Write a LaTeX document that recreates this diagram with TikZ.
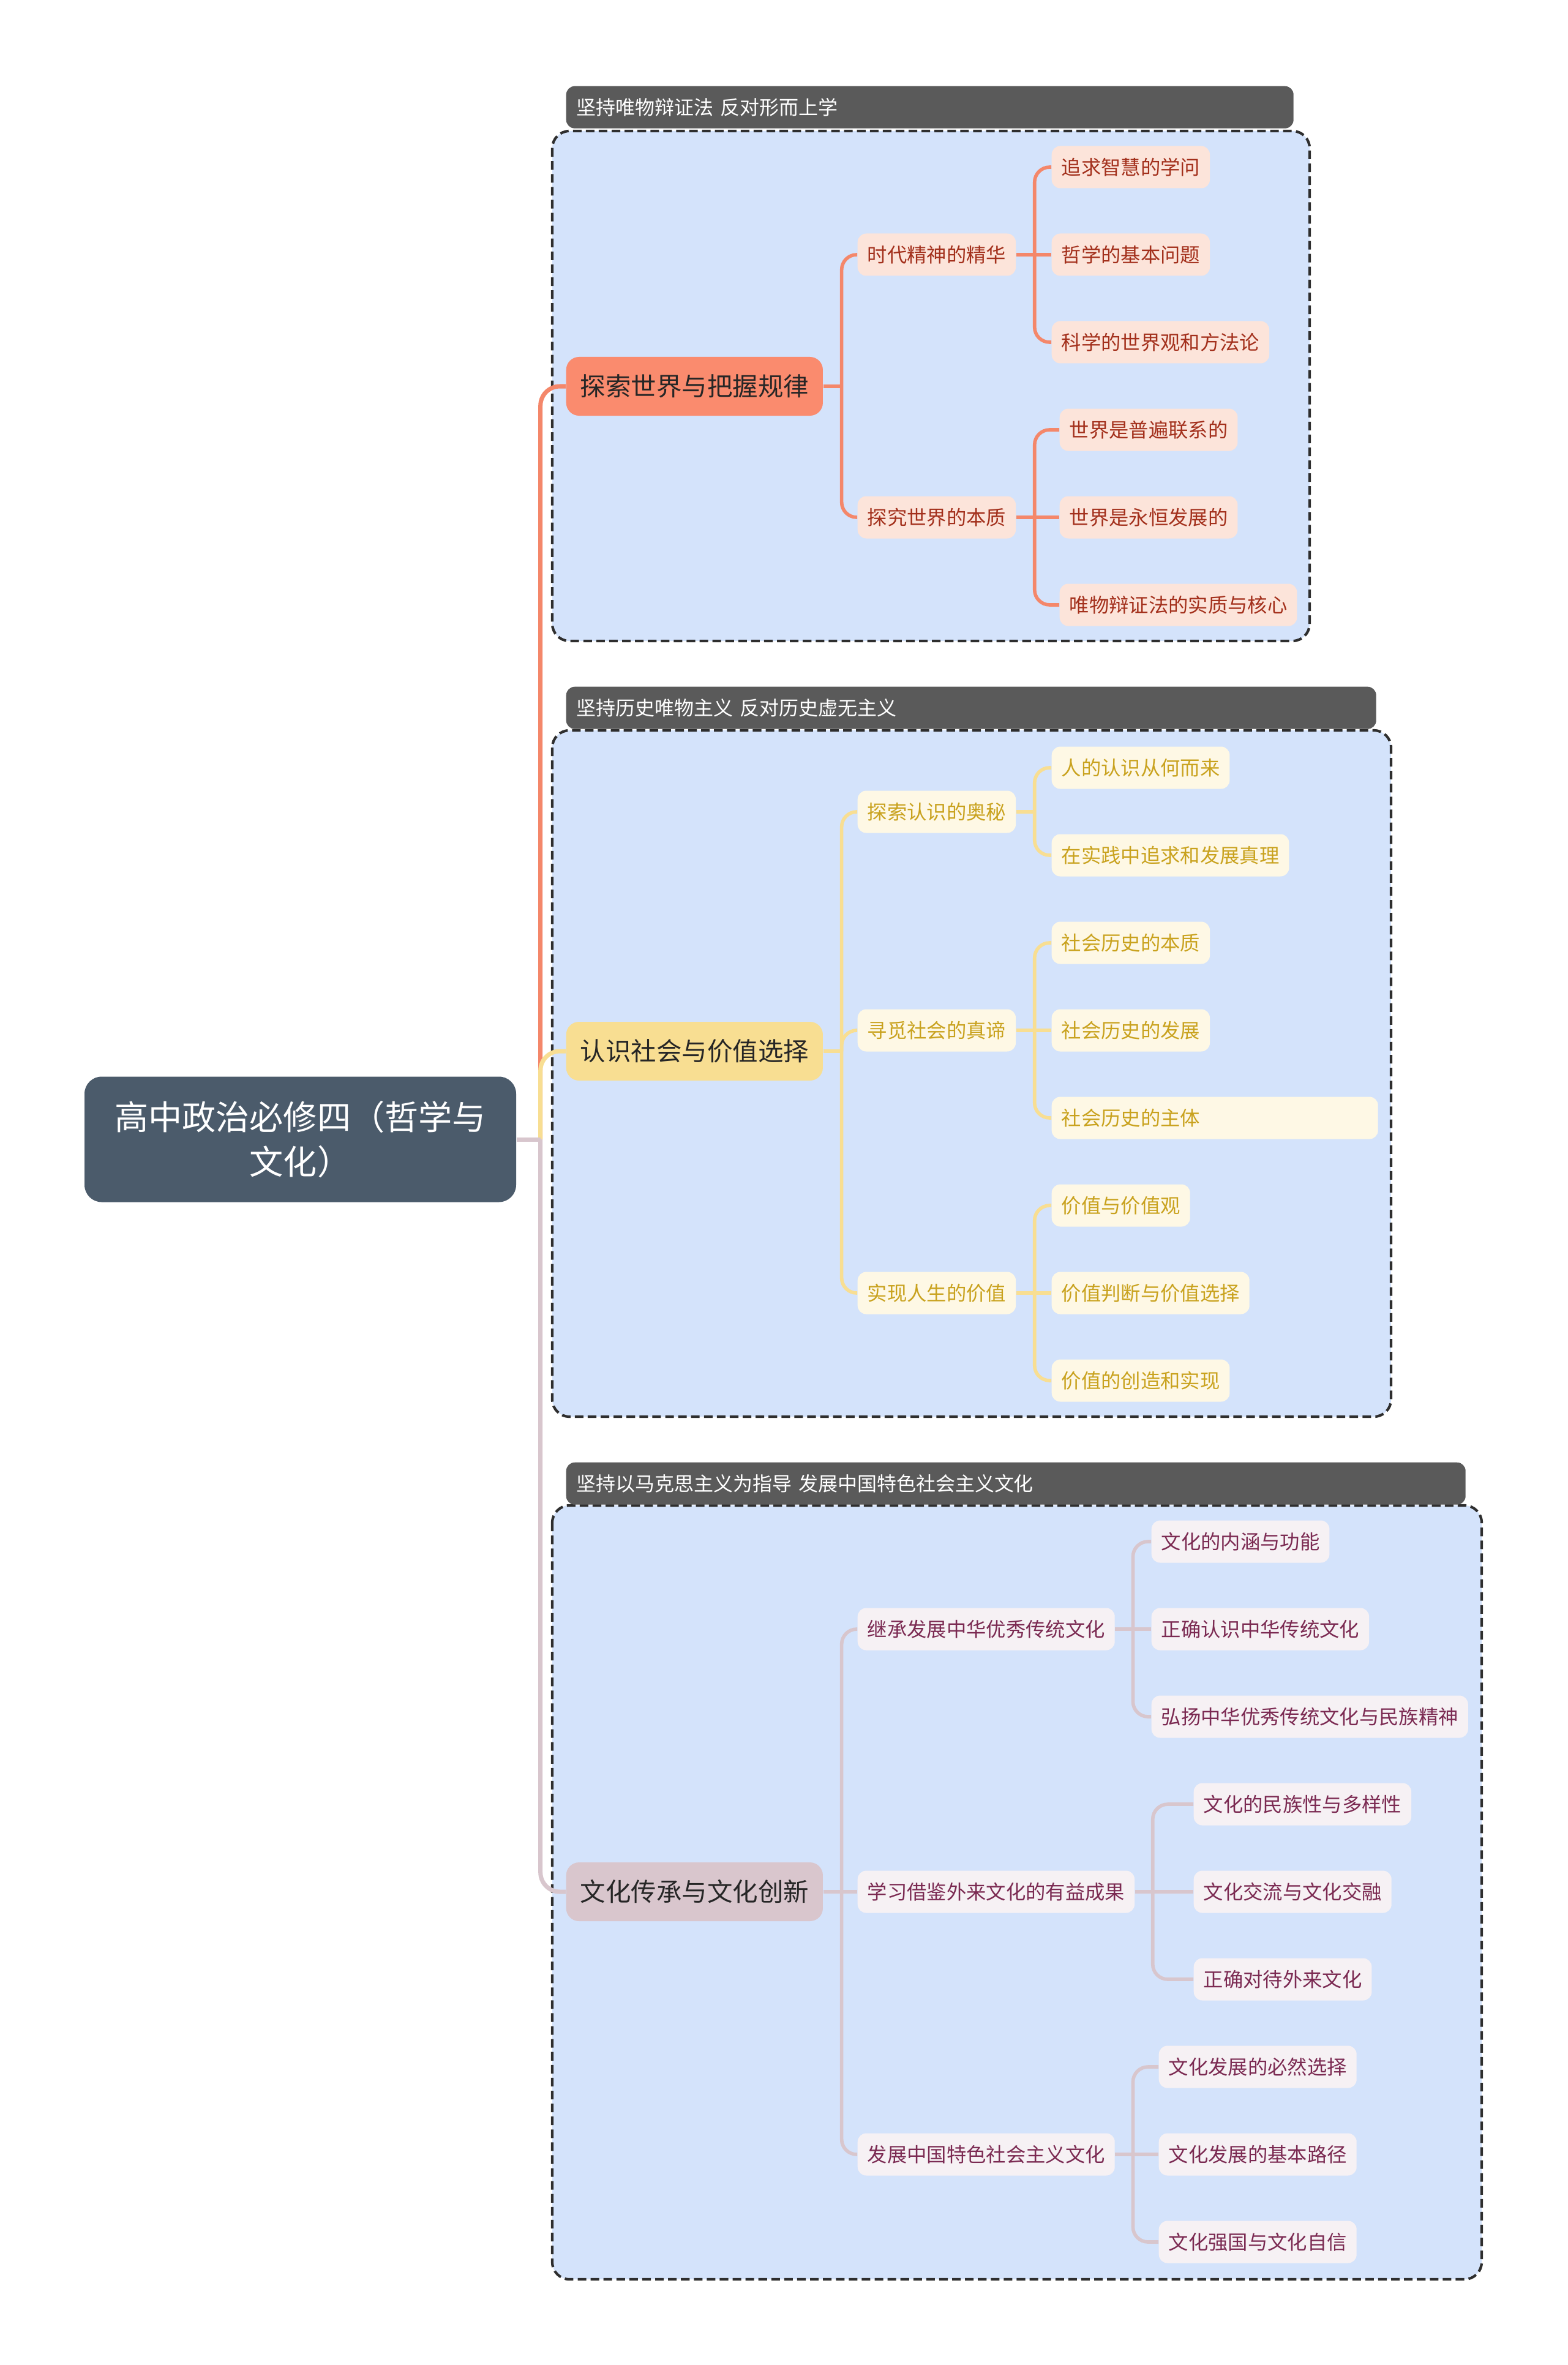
\documentclass[tikz,border=0pt]{standalone}
\usepackage{fontspec}
\setmainfont{Noto Sans CJK SC}
\usepackage{xcolor}
\usepackage{tikz}

\definecolor{rootfill}{HTML}{4B5B6B}
\definecolor{hdrfill}{HTML}{5A5A5A}
\definecolor{boxfill}{HTML}{D4E3FB}
\definecolor{boxline}{HTML}{2E2E2E}
\definecolor{orline}{HTML}{F4876A}
\definecolor{orfill}{HTML}{FA8B6E}
\definecolor{orpale}{HTML}{FCE4DA}
\definecolor{ortext}{HTML}{A3301C}
\definecolor{yeline}{HTML}{F8DE92}
\definecolor{yefill}{HTML}{F8DE92}
\definecolor{yepale}{HTML}{FEF8E5}
\definecolor{yetext}{HTML}{C9A21E}
\definecolor{muline}{HTML}{D8C6CD}
\definecolor{mufill}{HTML}{D9C6CD}
\definecolor{mupale}{HTML}{F6F1F4}
\definecolor{mutext}{HTML}{7B2A52}

\begin{document}
\begin{tikzpicture}[
    root/.style={rectangle, rounded corners=8pt, minimum width=7.05cm, minimum height=2.05cm, align=center, fill=rootfill, text=white, font=\fontsize{15.7}{21}\selectfont},
    topic/.style={rectangle, rounded corners=6pt, minimum height=0.96cm, inner xsep=0.23cm, anchor=west, text=black!85, font=\fontsize{11.8}{14}\selectfont},
    leaf/.style={rectangle, rounded corners=4pt, minimum height=0.69cm, inner xsep=0.16cm, anchor=west, font=\fontsize{9.2}{11}\selectfont},
    orleaf/.style={leaf, fill=orpale, text=ortext},
    yeleaf/.style={leaf, fill=yepale, text=yetext},
    muleaf/.style={leaf, fill=mupale, text=mutext},
    hdr/.style={rectangle, rounded corners=4pt, minimum height=0.69cm, inner xsep=0.17cm, anchor=north west, align=left, fill=hdrfill, text=white, font=\fontsize{9.1}{11}\selectfont},
    grp/.style={draw=boxline, dash pattern=on 4pt off 2pt, line width=1.2pt, fill=boxfill, rounded corners=8pt},
    link/.style={line width=1.6pt, rounded corners=7pt},
    trunk/.style={line width=2pt, rounded corners=9pt},
]
\fill[white] (0,0) rectangle (25.60,-38.63);

% group frames
\draw[grp] (9.02,-2.14) rectangle (21.39,-10.47);
\draw[grp] (9.02,-11.93) rectangle (22.72,-23.14);
\draw[grp] (9.02,-24.59) rectangle (24.20,-37.23);

\node[hdr, text width=11.54cm] (h1) at (9.24,-1.40) {坚持唯物辩证法 反对形而上学};
\node[hdr, text width=12.89cm] (h2) at (9.24,-11.21) {坚持历史唯物主义 反对历史虚无主义};
\node[hdr, text width=14.35cm] (h3) at (9.24,-23.88) {坚持以马克思主义为指导 发展中国特色社会主义文化};

\node[root] (root) at (4.905,-18.61) {高中政治必修四（哲学与\\文化）};

% branch 1
\node[topic, fill=orfill] (b1) at (9.24,-6.31) {探索世界与把握规律};
\node[orleaf] (s11) at (14.00,-4.16) {时代精神的精华};
\node[orleaf] (s12) at (14.00,-8.45) {探究世界的本质};
\node[orleaf] (l111) at (17.17,-2.73) {追求智慧的学问};
\node[orleaf] (l112) at (17.17,-4.16) {哲学的基本问题};
\node[orleaf] (l113) at (17.17,-5.59) {科学的世界观和方法论};
\node[orleaf] (l121) at (17.30,-7.02) {世界是普遍联系的};
\node[orleaf] (l122) at (17.30,-8.45) {世界是永恒发展的};
\node[orleaf] (l123) at (17.30,-9.88) {唯物辩证法的实质与核心};

% branch 2
\node[topic, fill=yefill] (b2) at (9.24,-17.17) {认识社会与价值选择};
\node[yeleaf] (s21) at (14.00,-13.26) {探索认识的奥秘};
\node[yeleaf] (s22) at (14.00,-16.83) {寻觅社会的真谛};
\node[yeleaf] (s23) at (14.00,-21.12) {实现人生的价值};
\node[yeleaf] (l211) at (17.17,-12.54) {人的认识从何而来};
\node[yeleaf] (l212) at (17.17,-13.97) {在实践中追求和发展真理};
\node[yeleaf] (l221) at (17.17,-15.40) {社会历史的本质};
\node[yeleaf] (l222) at (17.17,-16.83) {社会历史的发展};
\node[yeleaf, text width=5.01cm, align=left] (l223) at (17.17,-18.26) {社会历史的主体};
\node[yeleaf] (l231) at (17.17,-19.69) {价值与价值观};
\node[yeleaf] (l232) at (17.17,-21.12) {价值判断与价值选择};
\node[yeleaf] (l233) at (17.17,-22.55) {价值的创造和实现};

% branch 3
\node[topic, fill=mufill] (b3) at (9.24,-30.90) {文化传承与文化创新};
\node[muleaf] (s31) at (14.00,-26.61) {继承发展中华优秀传统文化};
\node[muleaf] (s32) at (14.00,-30.90) {学习借鉴外来文化的有益成果};
\node[muleaf] (s33) at (14.00,-35.19) {发展中国特色社会主义文化};
\node[muleaf] (l311) at (18.80,-25.18) {文化的内涵与功能};
\node[muleaf] (l312) at (18.80,-26.61) {正确认识中华传统文化};
\node[muleaf] (l313) at (18.80,-28.04) {弘扬中华优秀传统文化与民族精神};
\node[muleaf] (l321) at (19.49,-29.47) {文化的民族性与多样性};
\node[muleaf] (l322) at (19.49,-30.90) {文化交流与文化交融};
\node[muleaf] (l323) at (19.49,-32.33) {正确对待外来文化};
\node[muleaf] (l331) at (18.92,-33.76) {文化发展的必然选择};
\node[muleaf] (l332) at (18.92,-35.19) {文化发展的基本路径};
\node[muleaf] (l333) at (18.92,-36.62) {文化强国与文化自信};

% root to branches
\draw[trunk, orline] ([xshift=0.39cm]root.east) |- (b1.west);
\draw[trunk, yeline] ([xshift=0.39cm]root.east) |- (b2.west);
\draw[trunk, muline] ([xshift=0.39cm]root.east) |- (b3.west);
\draw[trunk, muline] (root.east) -- ++(0.39,0);

% branch 1 links
\draw[link, orline] (b1.east) -- ++(0.3,0);
\draw[link, orline] ([xshift=0.3cm]b1.east) |- (s11.west);
\draw[link, orline] ([xshift=0.3cm]b1.east) |- (s12.west);
\draw[link, orline] (s11.east) -- (l112.west);
\draw[link, orline] ([xshift=0.3cm]s11.east) |- (l111.west);
\draw[link, orline] ([xshift=0.3cm]s11.east) |- (l113.west);
\draw[link, orline] (s12.east) -- (l122.west);
\draw[link, orline] ([xshift=0.3cm]s12.east) |- (l121.west);
\draw[link, orline] ([xshift=0.3cm]s12.east) |- (l123.west);

% branch 2 links
\draw[link, yeline] (b2.east) -- ++(0.3,0);
\draw[link, yeline] ([xshift=0.3cm]b2.east) |- (s21.west);
\draw[link, yeline] ([xshift=0.3cm]b2.east) |- (s22.west);
\draw[link, yeline] ([xshift=0.3cm]b2.east) |- (s23.west);
\draw[link, yeline] (s21.east) -- ++(0.3,0);
\draw[link, yeline] ([xshift=0.3cm]s21.east) |- (l211.west);
\draw[link, yeline] ([xshift=0.3cm]s21.east) |- (l212.west);
\draw[link, yeline] (s22.east) -- (l222.west);
\draw[link, yeline] ([xshift=0.3cm]s22.east) |- (l221.west);
\draw[link, yeline] ([xshift=0.3cm]s22.east) |- (l223.west);
\draw[link, yeline] (s23.east) -- (l232.west);
\draw[link, yeline] ([xshift=0.3cm]s23.east) |- (l231.west);
\draw[link, yeline] ([xshift=0.3cm]s23.east) |- (l233.west);

% branch 3 links
\draw[link, muline] (b3.east) -- (s32.west);
\draw[link, muline] ([xshift=0.3cm]b3.east) |- (s31.west);
\draw[link, muline] ([xshift=0.3cm]b3.east) |- (s33.west);
\draw[link, muline] (s31.east) -- (l312.west);
\draw[link, muline] ([xshift=0.29cm]s31.east) |- (l311.west);
\draw[link, muline] ([xshift=0.29cm]s31.east) |- (l313.west);
\draw[link, muline] (s32.east) -- (l322.west);
\draw[link, muline] ([xshift=0.29cm]s32.east) |- (l321.west);
\draw[link, muline] ([xshift=0.29cm]s32.east) |- (l323.west);
\draw[link, muline] (s33.east) -- (l332.west);
\draw[link, muline] ([xshift=0.29cm]s33.east) |- (l331.west);
\draw[link, muline] ([xshift=0.29cm]s33.east) |- (l333.west);
\end{tikzpicture}
\end{document}
